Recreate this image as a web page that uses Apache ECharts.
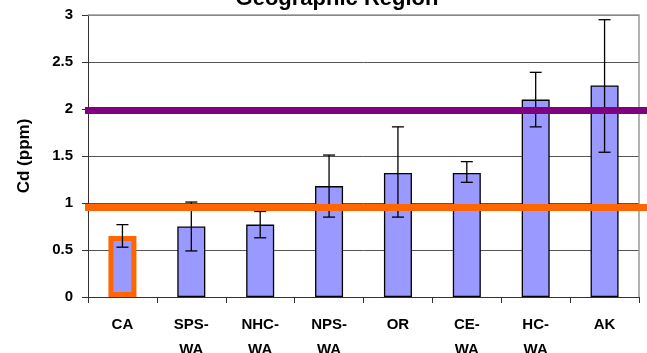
<!DOCTYPE html>
<html>
<head>
<meta charset="utf-8">
<script src="https://cdn.jsdelivr.net/npm/echarts@6/dist/echarts.min.js"></script>
<style>
  html, body { margin: 0; padding: 0; background: #fff; }
  #chart { width: 647px; height: 353px; }
</style>
</head>
<body>
<div id="chart"></div>
<script>
  // values
  const regions = ['CA', 'SPS-\nWA', 'NHC-\nWA', 'NPS-\nWA', 'OR', 'CE-\nWA', 'HC-\nWA', 'AK'];
  const meanCd = [0.65, 0.75, 0.77, 1.18, 1.32, 1.32, 2.10, 2.25];
  const errLow = [0.53, 0.49, 0.63, 0.85, 0.85, 1.22, 1.81, 1.54];
  const errHigh = [0.77, 1.01, 0.91, 1.51, 1.81, 1.44, 2.39, 2.95];
  const yTicks = [0, 0.5, 1, 1.5, 2, 2.5, 3];
  const lowerLimit = 0.96;
  const upperLimit = 1.99;

  const font = 'Liberation Sans, Arial, sans-serif';

  const barData = meanCd.map((v, i) => {
    if (i === 0) {
      return { value: v, itemStyle: { borderColor: '#ff6600', borderWidth: 5 } };
    }
    return v;
  });

  const errData = regions.map((r, i) => [i, errLow[i], errHigh[i]]);

  var myChart = echarts.init(document.getElementById('chart'));

  const options = {
    animation: false,
    title: {
      text: 'Geographic Region',
      left: 332,
      textAlign: 'center',
      top: -17,
      textStyle: { fontFamily: font, fontWeight: 'bold', fontSize: 22, color: '#000' }
    },
    grid: { left: 88, right: 8, top: 15, bottom: 56, containLabel: false, outerBoundsMode: 'none' },
    xAxis: {
      type: 'category',
      data: regions,
      axisLine: { lineStyle: { color: '#333', width: 1 } },
      axisTick: { show: true, alignWithLabel: false, length: 6, lineStyle: { color: '#333' } },
      axisLabel: {
        interval: 0,
        margin: 15,
        fontFamily: font,
        fontWeight: 'bold',
        fontSize: 15,
        lineHeight: 25,
        color: '#000'
      }
    },
    yAxis: {
      type: 'value',
      min: 0,
      max: 3,
      interval: 0.5,
      name: 'Cd (ppm)',
      nameLocation: 'middle',
      nameGap: 55,
      nameTextStyle: { fontFamily: font, fontWeight: 'bold', fontSize: 17, color: '#000' },
      axisLine: { show: true, lineStyle: { color: '#333' } },
      axisTick: { show: true, length: 6, lineStyle: { color: '#333' } },
      axisLabel: {
        margin: 15,
        fontFamily: font,
        fontWeight: 'bold',
        fontSize: 15,
        color: '#000',
        formatter: v => (yTicks.indexOf(v) >= 0 ? String(v) : '')
      },
      splitLine: { show: true, lineStyle: { color: '#555', width: 1 } }
    },
    series: [
      {
        type: 'bar',
        data: barData,
        barWidth: 28,
        itemStyle: { color: '#9999ff', borderColor: '#000', borderWidth: 1.3 },
        z: 2,
        markLine: {
          silent: true,
          symbol: 'none',
          label: { show: false },
          z: 5,
          data: [
            [
              { x: 85, yAxis: upperLimit, lineStyle: { color: '#800080', width: 7, type: 'solid' } },
              { x: 647, yAxis: upperLimit }
            ],
            [
              { x: 85, yAxis: lowerLimit, lineStyle: { color: '#ff6600', width: 7, type: 'solid' } },
              { x: 647, yAxis: lowerLimit }
            ]
          ]
        }
      },
      {
        type: 'custom',
        data: errData,
        z: 4,
        renderItem: function (params, api) {
          const x = api.value(0);
          const lo = api.coord([x, api.value(1)]);
          const hi = api.coord([x, api.value(2)]);
          const cap = 6;
          const style = { stroke: '#000', lineWidth: 1.3 };
          return {
            type: 'group',
            children: [
              { type: 'line', shape: { x1: hi[0], y1: hi[1], x2: lo[0], y2: lo[1] }, style: style },
              { type: 'line', shape: { x1: hi[0] - cap, y1: hi[1], x2: hi[0] + cap, y2: hi[1] }, style: style },
              { type: 'line', shape: { x1: lo[0] - cap, y1: lo[1], x2: lo[0] + cap, y2: lo[1] }, style: style }
            ]
          };
        }
      }
    ]
  };

  myChart.setOption(options, true);

  // grey frame on top and right of the plot area, like the original
  const g = myChart.getModel().getComponent('grid').coordinateSystem.getRect();
  myChart.setOption({
    graphic: [{
      type: 'polyline',
      shape: { points: [[g.x, g.y], [g.x + g.width, g.y], [g.x + g.width, g.y + g.height]] },
      style: { stroke: '#999', lineWidth: 1.5, fill: null },
      z: 1
    }]
  });
</script>
</body>
</html>
